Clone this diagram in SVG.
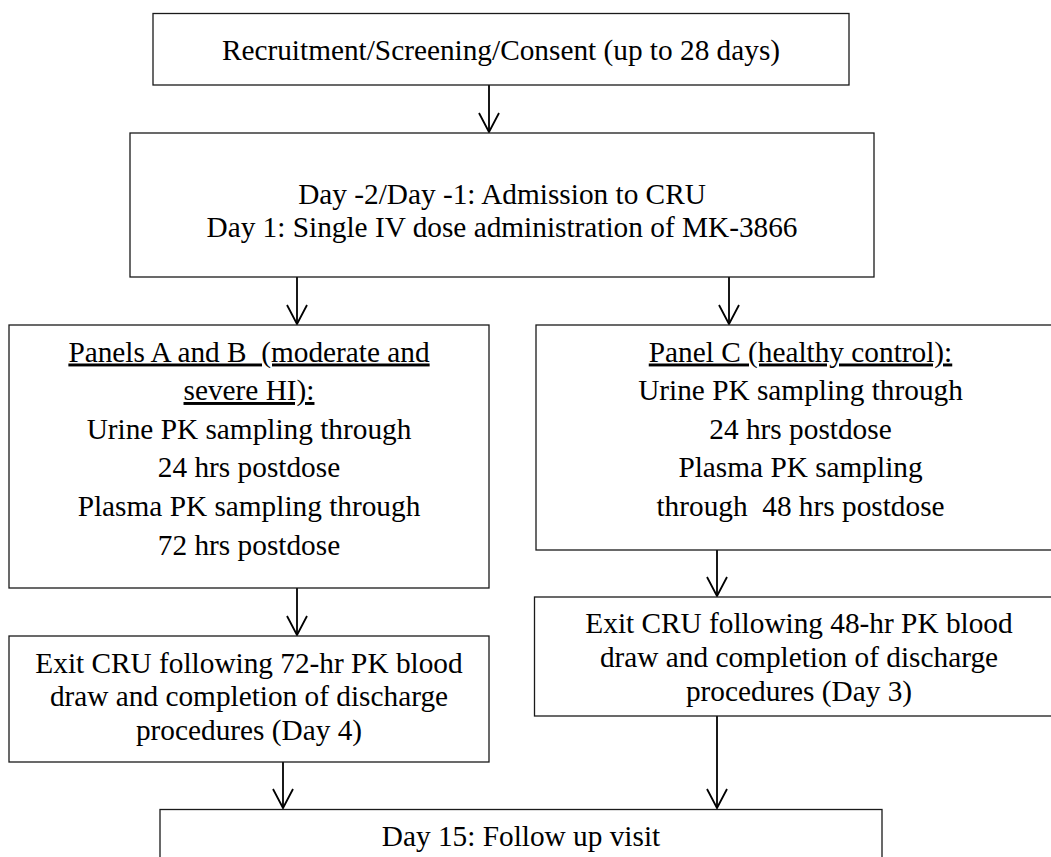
<svg xmlns="http://www.w3.org/2000/svg" width="1051" height="857" viewBox="0 0 1051 857">
  <style>
    .box { fill: #ffffff; stroke: #1a1a1a; stroke-width: 1.3; }
    .lbl { font-family: "Liberation Serif", "Times New Roman", serif; font-size: 29.3px; fill: #000; text-anchor: middle; white-space: pre; }
    .ul { text-decoration: underline; }
    .conn { stroke: #000; stroke-width: 1.8; fill: none; }
  </style>
  <defs>
    <marker id="arr" markerUnits="userSpaceOnUse" viewBox="-21 -12 23 24" refX="0" refY="0" markerWidth="23" markerHeight="24" orient="auto">
      <path d="M -19,-10 L 0,0 L -19,10" fill="none" stroke="#000" stroke-width="1.8"/>
    </marker>
  </defs>
  <rect width="1051" height="857" fill="#ffffff"/>

  <g id="connectors">
    <line class="conn" x1="489" y1="85" x2="489" y2="132" marker-end="url(#arr)"/>
    <line class="conn" x1="297" y1="277" x2="297" y2="324" marker-end="url(#arr)"/>
    <line class="conn" x1="729" y1="277" x2="729" y2="324" marker-end="url(#arr)"/>
    <line class="conn" x1="297" y1="588" x2="297" y2="635" marker-end="url(#arr)"/>
    <line class="conn" x1="717" y1="550" x2="717" y2="596" marker-end="url(#arr)"/>
    <line class="conn" x1="283" y1="762" x2="283" y2="808" marker-end="url(#arr)"/>
    <line class="conn" x1="717" y1="716" x2="717" y2="808" marker-end="url(#arr)"/>
  </g>

  <g id="recruitment">
    <rect class="box" x="153" y="13.5" width="696" height="71.5"/>
    <text class="lbl" x="501" y="60">Recruitment/Screening/Consent (up to 28 days)</text>
  </g>

  <g id="admission">
    <rect class="box" x="130" y="133" width="744" height="144"/>
    <text class="lbl" x="502" y="203.5">Day -2/Day -1: Admission to CRU</text>
    <text class="lbl" x="502" y="237">Day 1: Single IV dose administration of MK-3866</text>
  </g>

  <g id="panelsAB">
    <rect class="box" x="9" y="325" width="480" height="263"/>
    <text class="lbl ul" x="249" y="361.5">Panels A and B  (moderate and</text>
    <text class="lbl ul" x="249" y="400">severe HI):</text>
    <text class="lbl" x="249" y="438.5">Urine PK sampling through</text>
    <text class="lbl" x="249" y="477">24 hrs postdose</text>
    <text class="lbl" x="249" y="516">Plasma PK sampling through</text>
    <text class="lbl" x="249" y="555">72 hrs postdose</text>
  </g>

  <g id="panelC">
    <rect class="box" x="536" y="325" width="529" height="225"/>
    <text class="lbl ul" x="800.5" y="361.5">Panel C (healthy control):</text>
    <text class="lbl" x="800.5" y="400">Urine PK sampling through</text>
    <text class="lbl" x="800.5" y="438.5">24 hrs postdose</text>
    <text class="lbl" x="800.5" y="477">Plasma PK sampling</text>
    <text class="lbl" x="800.5" y="516">through  48 hrs postdose</text>
  </g>

  <g id="exitAB">
    <rect class="box" x="9" y="636" width="480" height="126"/>
    <text class="lbl" x="249" y="672.5">Exit CRU following 72-hr PK blood</text>
    <text class="lbl" x="249" y="706.3">draw and completion of discharge</text>
    <text class="lbl" x="249" y="740">procedures (Day 4)</text>
  </g>

  <g id="exitC">
    <rect class="box" x="534.5" y="597" width="530" height="119"/>
    <text class="lbl" x="799" y="633.3">Exit CRU following 48-hr PK blood</text>
    <text class="lbl" x="799" y="667">draw and completion of discharge</text>
    <text class="lbl" x="799" y="700.5">procedures (Day 3)</text>
  </g>

  <g id="followup">
    <rect class="box" x="160" y="809.5" width="722" height="60"/>
    <text class="lbl" x="521" y="845.5">Day 15: Follow up visit</text>
  </g>
</svg>
